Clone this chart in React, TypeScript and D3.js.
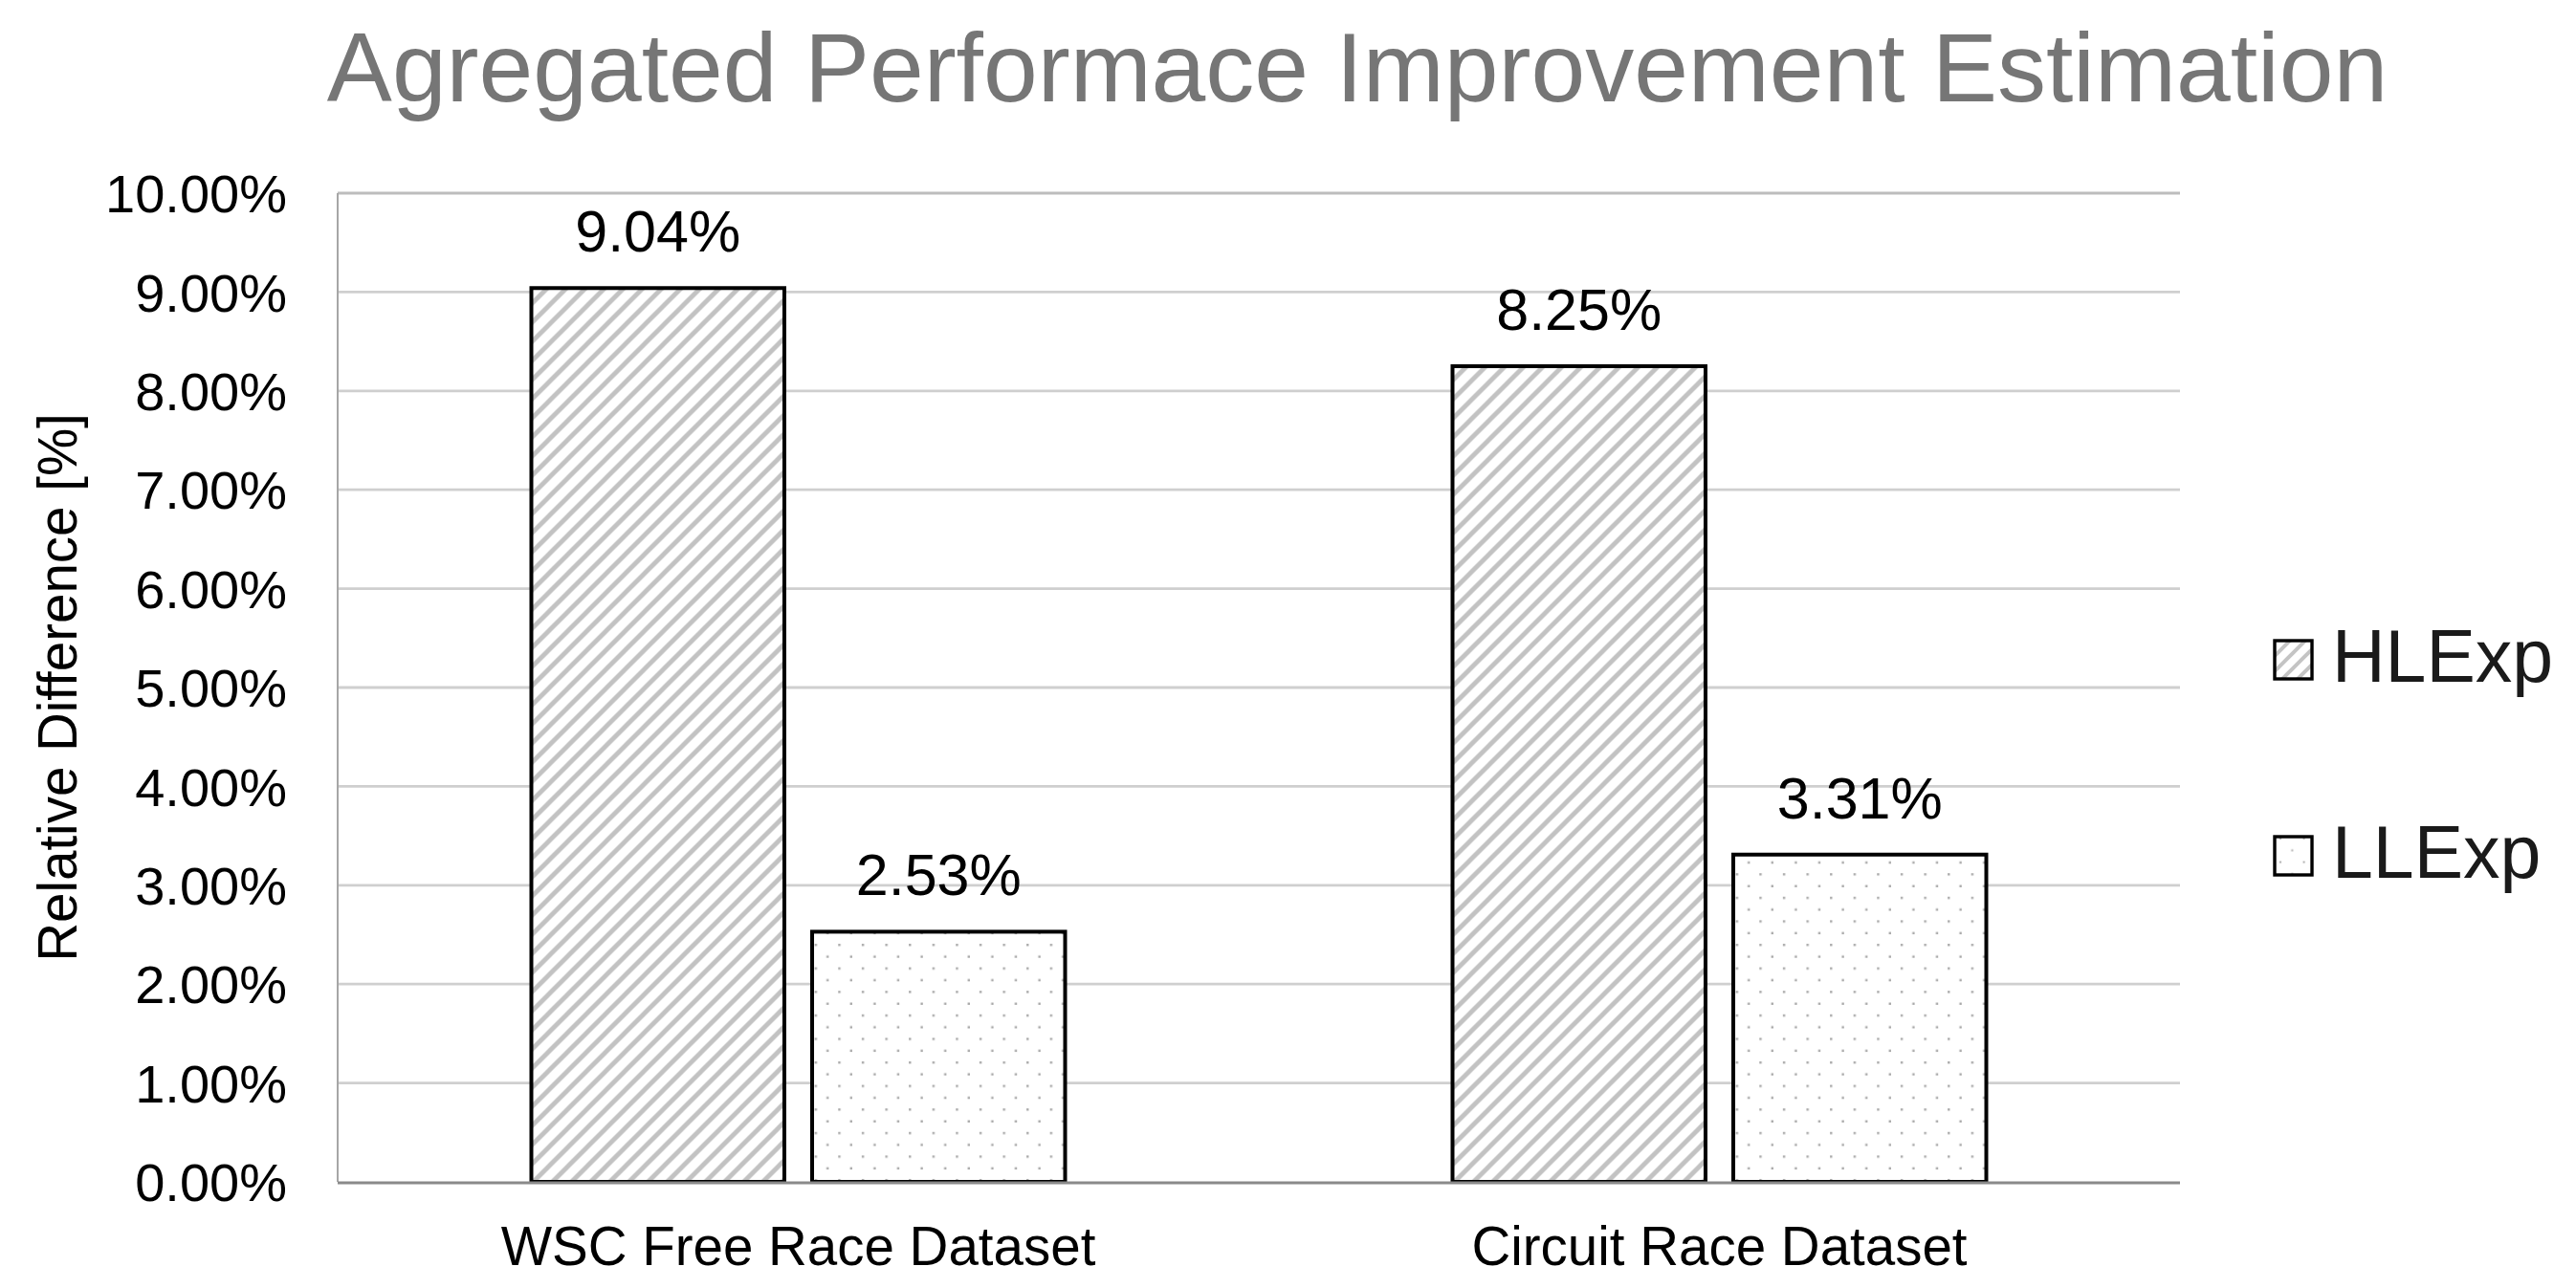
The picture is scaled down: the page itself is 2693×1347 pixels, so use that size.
import React from "react";
import * as d3 from "d3";

const categories = ["WSC Free Race Dataset", "Circuit Race Dataset"];
const seriesNames = ["HLExp", "LLExp"];
const hlexp = [9.04, 8.25];
const llexp = [2.53, 3.31];
const yTicks = [0, 1, 2, 3, 4, 5, 6, 7, 8, 9, 10];
const title = "Agregated Performace Improvement Estimation";
const yTitle = "Relative Difference [%]";

const W = 2693;
const H = 1347;
const plotLeft = 353;
const plotRight = 2279;
const plotTop = 202;
const plotBottom = 1236;
const FONT = "'Liberation Sans', Arial, Helvetica, sans-serif";

export default function App() {
  const x0 = d3
    .scaleBand<string>()
    .domain(categories)
    .range([plotLeft, plotRight])
    .paddingInner(0.4164)
    .paddingOuter(0.2082);
  const x1 = d3
    .scaleBand<string>()
    .domain(seriesNames)
    .range([0, x0.bandwidth()])
    .paddingInner(0.0853)
    .paddingOuter(0);
  const y = d3.scaleLinear().domain([0, 10]).range([plotBottom, plotTop]);
  const fmt = (v: number) => d3.format(".2f")(v) + "%";

  const values: Record<string, number[]> = { HLExp: hlexp, LLExp: llexp };
  const fills: Record<string, string> = { HLExp: "url(#hatch)", LLExp: "url(#dots)" };

  const legendY = [690, 895];
  const P = 20;

  return (
    <svg
      width={W}
      height={H}
      style={{ position: "absolute", left: 0, top: 0, background: "#fff" }}
      fontFamily={FONT}
    >
      <defs>
        <pattern id="hatch" patternUnits="userSpaceOnUse" width={P} height={P}>
          <rect width={P} height={P} fill="#ffffff" />
          <path
            d={`M${-P / 4},${P / 4} L${P / 4},${-P / 4} M0,${P} L${P},0 M${(3 * P) / 4},${(5 * P) / 4} L${(5 * P) / 4},${(3 * P) / 4}`}
            stroke="#c2c2c2"
            strokeWidth={4.8}
          />
        </pattern>
        <pattern id="dots" patternUnits="userSpaceOnUse" width={24.6} height={24.6}>
          <rect width={24.6} height={24.6} fill="#ffffff" />
          <rect x={3} y={3} width={2.4} height={2.4} fill="#a9a9a9" />
          <rect x={15.3} y={15.3} width={2.4} height={2.4} fill="#a9a9a9" />
        </pattern>
        <pattern id="hatchL" patternUnits="userSpaceOnUse" width={16} height={16} x={2378} y={670}>
          <rect width={16} height={16} fill="#ffffff" />
          <path d="M-4,4 L4,-4 M0,16 L16,0 M12,20 L20,12" stroke="#c4c4c4" strokeWidth={4} />
        </pattern>
        <pattern id="dotsL" patternUnits="userSpaceOnUse" width={24.6} height={24.6} x={2380} y={873}>
          <rect width={24.6} height={24.6} fill="#ffffff" />
          <rect x={3} y={3} width={2} height={2} fill="#b0b0b0" />
          <rect x={15.3} y={15.3} width={2} height={2} fill="#b0b0b0" />
        </pattern>
      </defs>

      <rect width={W} height={H} fill="#ffffff" />

      {/* Title */}
      <text x={1419} y={106} textAnchor="middle" fontSize={102} fill="#767676">
        {title}
      </text>

      {/* Gridlines */}
      {yTicks
        .filter((t) => t > 0)
        .map((t) => (
          <line
            key={"g" + t}
            x1={plotLeft}
            x2={plotRight}
            y1={y(t)}
            y2={y(t)}
            stroke={t === 10 ? "#bdbdbd" : "#cfcfcf"}
            strokeWidth={2.8}
          />
        ))}

      {/* Y axis line */}
      <line x1={plotLeft} x2={plotLeft} y1={plotTop} y2={plotBottom} stroke="#a6a6a6" strokeWidth={2} />

      {/* Tick labels */}
      {yTicks.map((t) => (
        <text key={"t" + t} x={300} y={y(t)} dy="0.36em" textAnchor="end" fontSize={56} fill="#000">
          {fmt(t)}
        </text>
      ))}

      {/* Y title */}
      <text
        transform={`translate(80, ${(plotTop + plotBottom) / 2}) rotate(-90)`}
        textAnchor="middle"
        fontSize={56.5}
        fill="#000"
      >
        {yTitle}
      </text>

      {/* Bars */}
      {categories.map((c, ci) => (
        <g key={c} transform={`translate(${x0(c)},0)`}>
          {seriesNames.map((s) => {
            const v = values[s][ci];
            const bx = x1(s) as number;
            const bw = x1.bandwidth();
            return (
              <g key={s}>
                <rect
                  x={bx + 2}
                  y={y(v)}
                  width={bw - 4}
                  height={plotBottom - y(v)}
                  fill={fills[s]}
                  stroke="#000"
                  strokeWidth={4}
                />
                <text
                  x={bx + bw / 2}
                  y={y(v) - 38}
                  textAnchor="middle"
                  fontSize={61}
                  fill="#000"
                >
                  {fmt(v)}
                </text>
              </g>
            );
          })}
        </g>
      ))}

      {/* X axis line */}
      <line x1={plotLeft} x2={plotRight} y1={plotBottom + 1} y2={plotBottom + 1} stroke="#8a8a8a" strokeWidth={3} />

      {/* X labels */}
      {categories.map((c) => (
        <text
          key={"x" + c}
          x={(x0(c) as number) + x0.bandwidth() / 2}
          y={1323}
          textAnchor="middle"
          fontSize={56.5}
          fill="#000"
        >
          {c}
        </text>
      ))}

      {/* Legend */}
      {seriesNames.map((s, i) => (
        <g key={"l" + s}>
          <rect
            x={2378}
            y={legendY[i] - 20}
            width={39}
            height={40}
            fill={i === 0 ? "url(#hatchL)" : "url(#dotsL)"}
            stroke="#000"
            strokeWidth={3.4}
          />
          <text x={2438} y={legendY[i] + 23} fontSize={77} fill="#1a1a1a">
            {s}
          </text>
        </g>
      ))}
    </svg>
  );
}
